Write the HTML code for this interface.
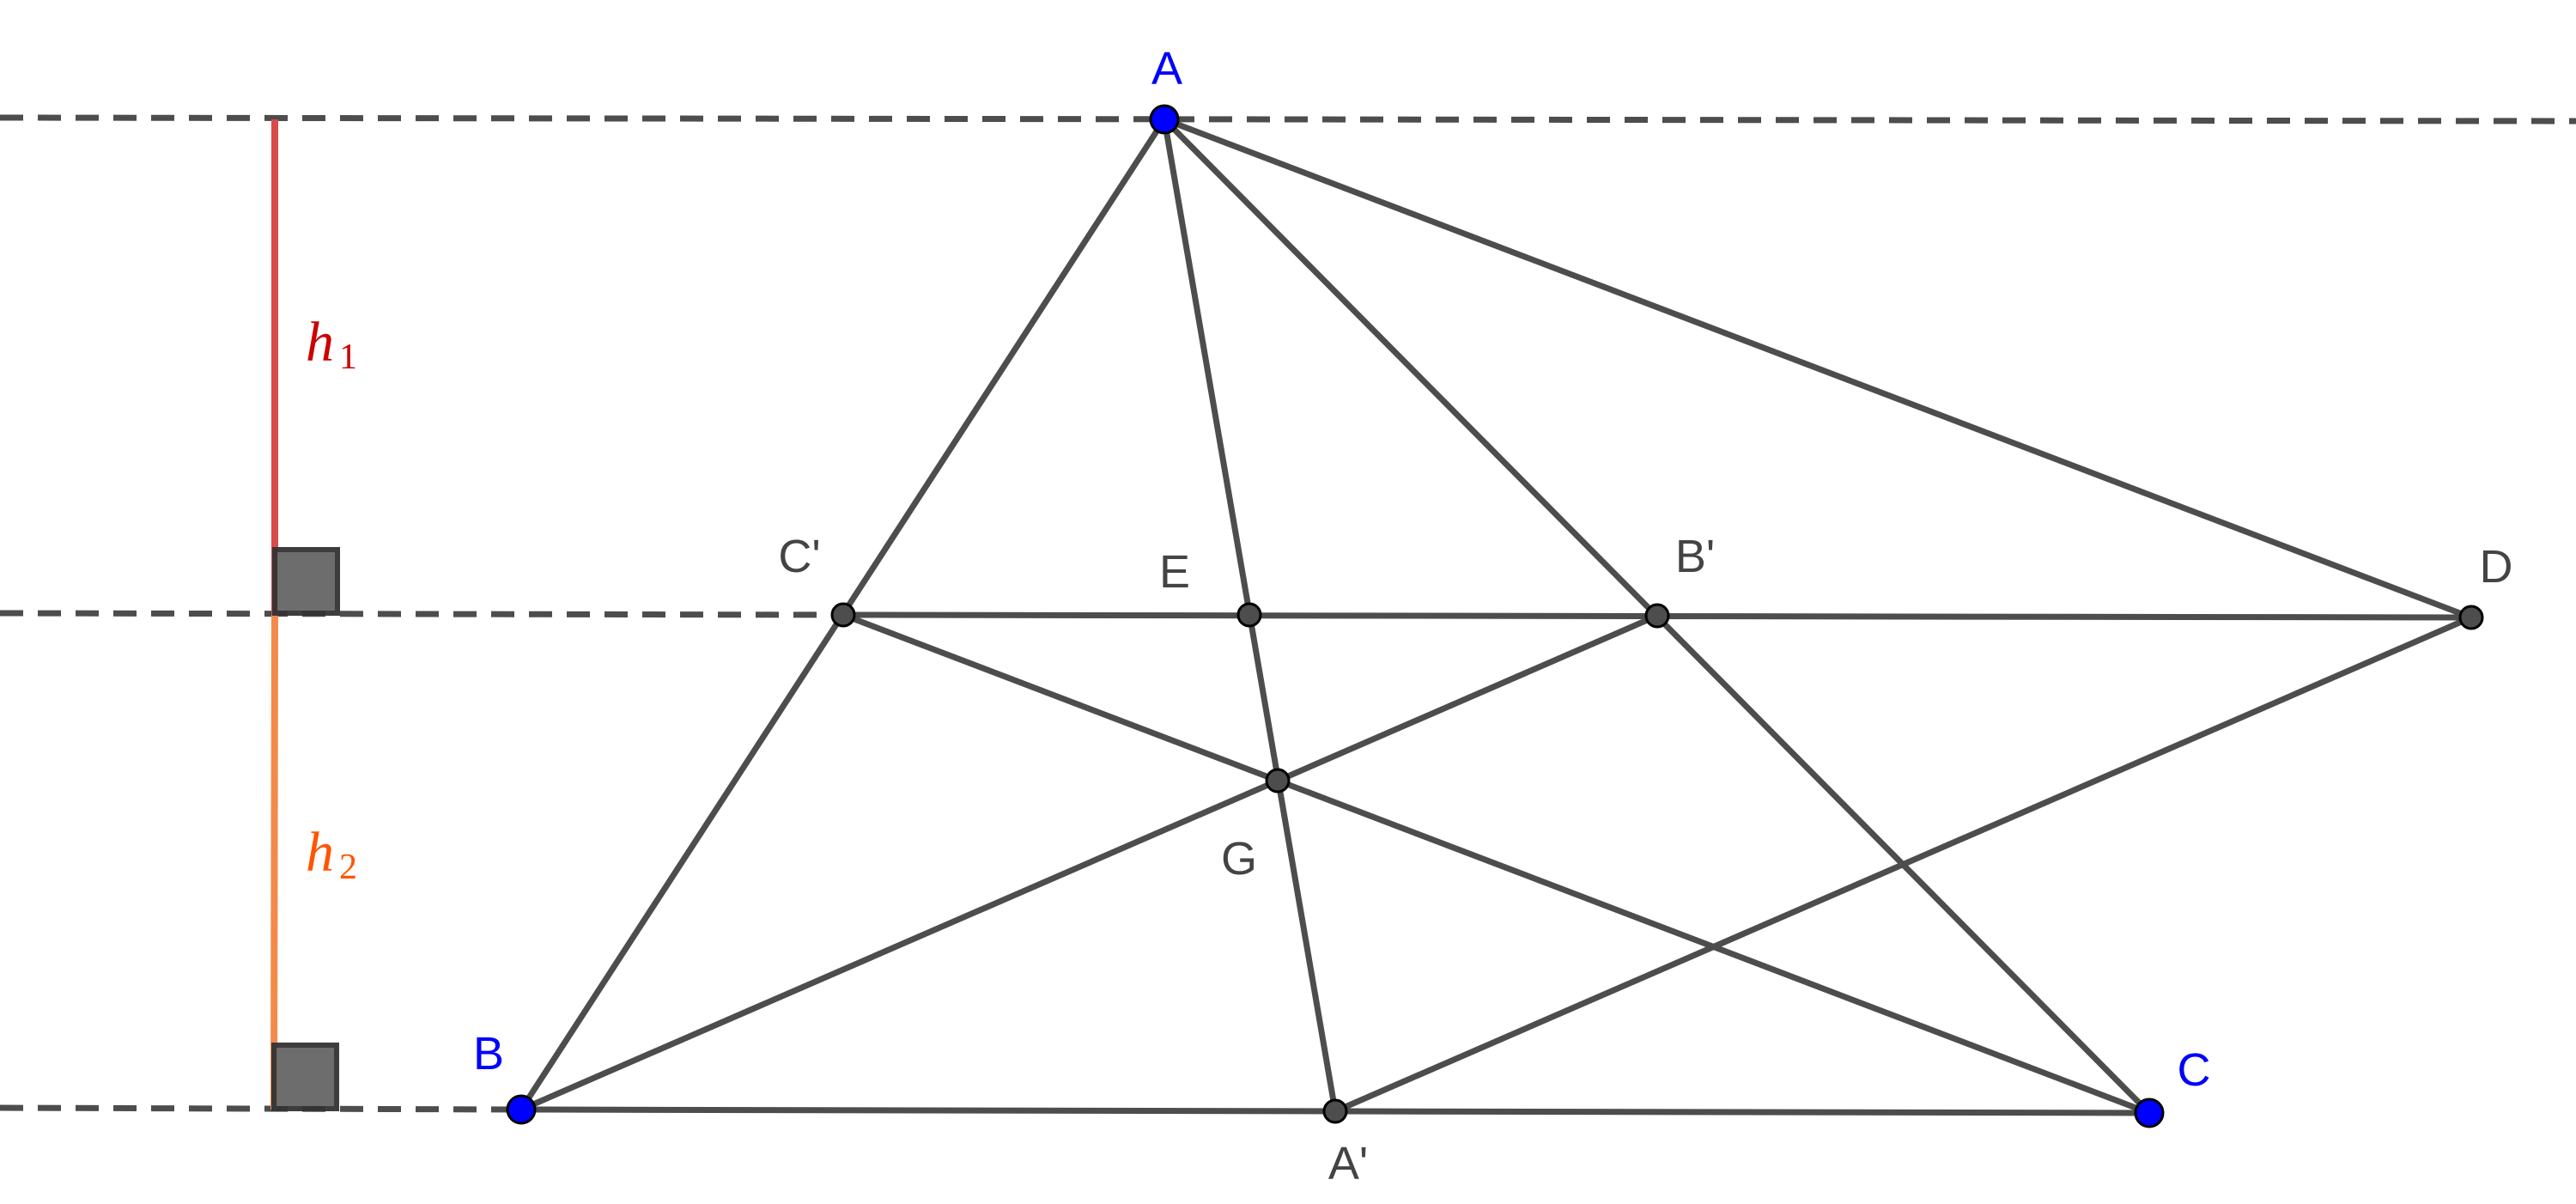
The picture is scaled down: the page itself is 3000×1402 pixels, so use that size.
<!DOCTYPE html>
<html><head><style>html,body{margin:0;padding:0;background:#fff}svg{display:block}</style></head>
<body>
<svg width="3000" height="1402" viewBox="0 0 3000 1402" xmlns="http://www.w3.org/2000/svg">
<g stroke="#4d4d4d" stroke-width="7" stroke-dasharray="27,17" fill="none">
<line x1="0" y1="137" x2="3000" y2="141"/>
<line x1="0" y1="714" x2="982" y2="716"/>
<line x1="0" y1="1290" x2="607" y2="1292"/>
</g>
<line x1="320" y1="139" x2="320" y2="716" stroke="#d94a4a" stroke-width="8"/>
<line x1="320" y1="716" x2="319" y2="1292" stroke="#f48a4a" stroke-width="8"/>
<rect x="320" y="640" width="73" height="74" fill="#666" stroke="#333" stroke-width="6" opacity="0.95"/>
<rect x="319" y="1217" width="73" height="74" fill="#666" stroke="#333" stroke-width="6" opacity="0.95"/>
<g stroke="#4d4d4d" stroke-width="7" fill="none" stroke-linecap="round">
<line x1="1356" y1="139" x2="607" y2="1292"/>
<line x1="1356" y1="139" x2="2503" y2="1296"/>
<line x1="607" y1="1292" x2="2503" y2="1296"/>
<line x1="1356" y1="139" x2="2878" y2="719"/>
<line x1="1356" y1="139" x2="1555" y2="1294"/>
<line x1="982" y1="716" x2="2878" y2="719"/>
<line x1="982" y1="716" x2="2503" y2="1296"/>
<line x1="607" y1="1292" x2="1930" y2="717"/>
<line x1="1555" y1="1294" x2="2878" y2="719"/>
</g>
<g fill="#4d4d4d" stroke="#000" stroke-width="3">
<circle cx="982" cy="716" r="13"/>
<circle cx="1455" cy="716" r="13"/>
<circle cx="1930" cy="717" r="13"/>
<circle cx="2878" cy="719" r="13"/>
<circle cx="1488" cy="909" r="13"/>
<circle cx="1555" cy="1294" r="13"/>
</g>
<g fill="#0000ff" stroke="#000" stroke-width="3">
<circle cx="1356" cy="139" r="16"/>
<circle cx="607" cy="1292" r="16"/>
<circle cx="2503" cy="1296" r="16"/>
</g>
<g font-family="Liberation Sans, sans-serif" font-size="54" text-anchor="middle">
<text x="1359" y="98" fill="#0000ff">A</text>
<text x="569" y="1245" fill="#0000ff">B</text>
<text x="2555" y="1264" fill="#0000ff">C</text>
<g fill="#444">
<text x="931" y="666">C'</text>
<text x="1368" y="684">E</text>
<text x="1443" y="1018">G</text>
<text x="1974" y="666">B'</text>
<text x="2907" y="678">D</text>
<text x="1570" y="1373">A'</text>
</g>
</g>
<g font-family="Liberation Serif, serif">
<text x="356" y="420" font-size="66" font-style="italic" fill="#cc0000">h</text>
<text x="395" y="429" font-size="42" fill="#cc0000">1</text>
<text x="356" y="1014" font-size="66" font-style="italic" fill="#ff5500">h</text>
<text x="395" y="1023" font-size="42" fill="#ff5500">2</text>
</g>
</svg>
</body></html>
